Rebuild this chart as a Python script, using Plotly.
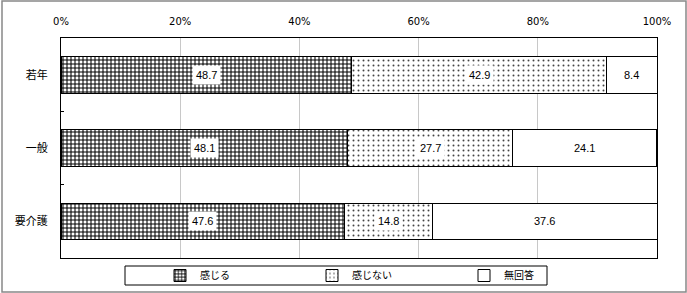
import plotly.graph_objects as go

categories = ["若年", "一般", "要介護"]
series_names = ["感じる", "感じない", "無回答"]
feel = [48.7, 48.1, 47.6]
not_feel = [42.9, 27.7, 14.8]
no_answer = [8.4, 24.1, 37.6]
tick_vals = [0, 20, 40, 60, 80, 100]
tick_text = ["0%", "20%", "40%", "60%", "80%", "100%"]

series = [feel, not_feel, no_answer]
patterns = [
    dict(shape="+", fgcolor="black", bgcolor="white", size=4, solidity=0.45, fillmode="replace"),
    dict(shape=".", fgcolor="#444444", bgcolor="white", size=5, solidity=0.12, fillmode="replace"),
    dict(shape="", fgcolor="white", bgcolor="white"),
]

fig = go.Figure()
for name, vals, pat in zip(series_names, series, patterns):
    fig.add_trace(go.Bar(
        y=categories, x=vals, name=name, orientation="h",
        marker=dict(color="white", pattern=pat, line=dict(color="black", width=1)),
        width=0.5,
    ))

# data labels with white boxes
for i, cat in enumerate(categories):
    cum = 0
    for vals in series:
        v = vals[i]
        fig.add_annotation(
            x=cum + v / 2, y=cat, text=f"{v:.1f}", showarrow=False,
            bgcolor="white", font=dict(size=11, color="black", family="Liberation Sans, Arial"),
            borderpad=3,
        )
        cum += v

PW, PH = 596, 220  # plot area size in px
fig.update_layout(
    barmode="stack",
    width=687, height=293,
    margin=dict(l=61, r=30, t=38, b=35, autoexpand=False),
    paper_bgcolor="white", plot_bgcolor="white",
    font=dict(family="Noto Sans CJK JP, Liberation Sans", size=10, color="black"),
    showlegend=True,
    legend=dict(
        orientation="h", x=(160 - 61) / PW, xanchor="left", y=-17.5 / PH, yanchor="middle",
        bgcolor="rgba(0,0,0,0)", borderwidth=0, entrywidth=107, entrywidthmode="pixels",
        font=dict(size=10), traceorder="normal", tracegroupgap=0, itemwidth=30,
    ),
    xaxis=dict(
        range=[0, 100], side="top", tickvals=tick_vals, ticktext=tick_text,
        showgrid=True, gridcolor="#c8c8c8", gridwidth=1, zeroline=False,
        showline=True, linecolor="black", linewidth=1, mirror=True, ticks="",
        ticklabelstandoff=8,
        tickfont=dict(size=10, family="DejaVu Sans, Liberation Sans"), fixedrange=True,
    ),
    yaxis=dict(
        autorange="reversed", showline=True, linecolor="black", linewidth=1, mirror=True,
        ticks="inside", tickson="boundaries", ticklen=3, tickcolor="black",
        showgrid=False, tickfont=dict(size=11), ticklabelstandoff=10,
    ),
    shapes=[
        dict(type="rect", xref="paper", yref="paper",
             x0=-59 / PW, x1=(686 - 61) / PW, y0=-34 / PH, y1=1 + 37 / PH,
             line=dict(color="#888888", width=1.5)),
        dict(type="rect", xref="paper", yref="paper",
             x0=(125 - 61) / PW, x1=(547 - 61) / PW, y0=-27 / PH, y1=-8 / PH,
             line=dict(color="black", width=1), fillcolor="white", layer="below"),
    ],
)

fig.write_html("out.html")
